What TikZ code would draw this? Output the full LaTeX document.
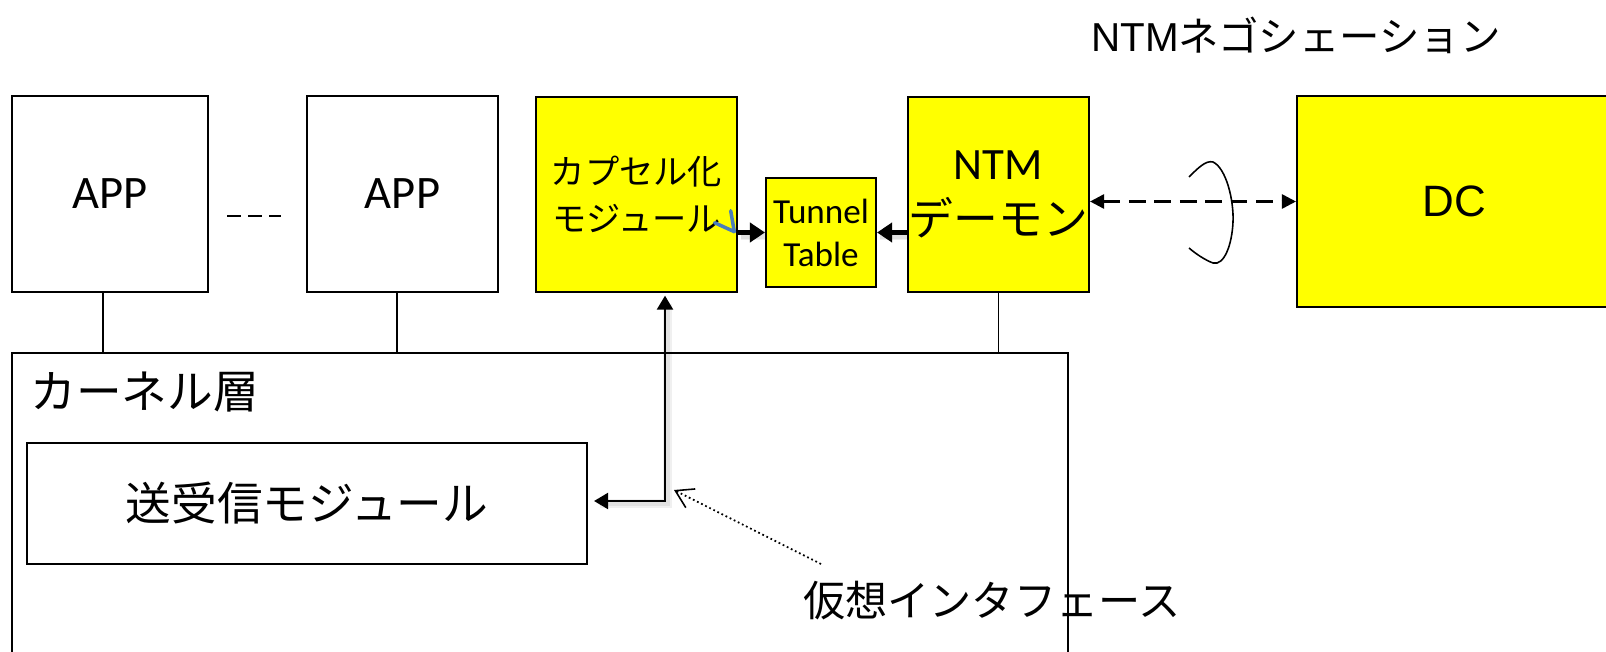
\documentclass[tikz,border=0pt]{standalone}
\usepackage{fontspec}
\setmainfont{Carlito}
\newfontfamily\jp{Noto Sans CJK JP}
\newfontfamily\arialf{Liberation Sans}
\usetikzlibrary{arrows.meta}

\definecolor{boxyellow}{RGB}{255,255,0}
\definecolor{markblue}{RGB}{74,126,187}

\begin{document}
\begin{tikzpicture}[x=0.02cm, y=-0.02cm,
  box/.style={draw=black, line width=1.1pt, inner sep=0pt, align=center},
  ybox/.style={box, fill=boxyellow, line width=1.2pt},
  wire/.style={draw=black, line width=1.1pt},
  fatarrow/.style={line width=2.5pt, -{Triangle[length=0.3cm, width=0.38cm]}},
  thinarrow/.style={line width=1.3pt, {Triangle[length=0.28cm, width=0.32cm]}-{Triangle[length=0.28cm, width=0.32cm]}},
  dasharrow/.style={line width=1.5pt, dash pattern=on 9.5pt off 5pt,
    {Triangle[length=0.28cm, width=0.28cm]}-{Triangle[length=0.28cm, width=0.28cm]}},
  dotarrow/.style={line width=1pt, dash pattern=on 1pt off 1.6pt,
    -{Straight Barb[length=0.34cm, width=0.42cm, line width=0.9pt]}},
  softshade/.style={draw=black, opacity=0.06, line width=#1, transform canvas={shift={(2.5,2.5)}}},
]
\useasboundingbox (0,0) rectangle (1606,652);
\fill[white] (0,0) rectangle (1606,652);

% heading over the negotiation link
\node[anchor=base west, inner sep=0pt, font=\fontsize{23}{28}\selectfont] (title) at (1091,52)
  {\arialf NTM\jp ネゴシェーション};

% user-space processes
\node[box, minimum width=3.92cm, minimum height=3.92cm, font=\fontsize{26.5}{31}\selectfont] (app1) at (110,194) {APP};
\node[box, minimum width=3.82cm, minimum height=3.92cm, font=\fontsize{26.5}{31}\selectfont] (app2) at (402.5,194) {APP};
\draw[line width=0.9pt, dash pattern=on 8pt off 4pt] (227,216) -- (281,216);

% encapsulation module, tunnel table, NTM daemon, DC
\node[ybox, minimum width=4.02cm, minimum height=3.90cm, font=\jp\fontsize{19.5}{26.5}\selectfont] (encap) at (636.5,194.5)
  {カプセル化\\モジュール};
\node[ybox, minimum width=2.2cm, minimum height=2.18cm, font=\fontsize{20}{24.5}\selectfont] (tunnel) at (821,232.5)
  {Tunnel\\Table};
\node[ybox, minimum width=3.62cm, minimum height=3.90cm, font=\fontsize{25.5}{32}\selectfont] (ntm) at (998.5,194.5)
  {NTM\\{\jp デーモン}};
\node[ybox, minimum width=6.3cm, minimum height=4.22cm, font=\arialf\fontsize{25}{30}\selectfont] (dc) at (1454.5,201.5) {DC};

% kernel layer (open towards the bottom)
\coordinate (kTL) at (12,353);
\coordinate (kTR) at (1068,353);
\draw[wire] (12,660) -- (kTL) -- (kTR) -- (1068,660);
\node[anchor=west, inner sep=0pt, font=\jp\fontsize{26}{30}\selectfont] (kernel) at (30,392) {カーネル層};
\node[box, minimum width=11.2cm, minimum height=2.42cm, font=\jp\fontsize{26}{30}\selectfont] (send) at (307,503.5)
  {送受信モジュール};

% attachments to the kernel layer
\draw[wire] ([xshift=-0.14cm]app1.south) -- ([xshift=-0.14cm]app1.south |- kTL);
\draw[wire] ([xshift=-0.11cm]app2.south) -- ([xshift=-0.11cm]app2.south |- kTL);
\draw[wire] (ntm.south) -- (ntm.south |- kTL);

% table updates, with a soft drop shadow
\foreach \w in {6pt,4pt}{
  \draw[softshade=\w] (encap.east |- tunnel) -- (tunnel.west);
  \draw[softshade=\w] (ntm.west |- tunnel) -- (tunnel.east);
}
\draw[fatarrow] (encap.east |- tunnel) -- (tunnel.west);
\draw[fatarrow] (ntm.west |- tunnel) -- (tunnel.east);
\draw[markblue, line width=2pt, line cap=round, line join=round]
  (714.6,222.7) -- (734.3,231.7) -- (730.7,210.7);

% virtual interface path, with a soft drop shadow
\coordinate (vif) at (665,501);
\foreach \w in {5pt,3pt}{
  \draw[softshade=\w] (encap.south -| vif) ++(0,8) -- (vif) -- ([xshift=0.2cm]send.east |- vif);
}
\draw[thinarrow, shorten <=1.5pt, shorten >=3.5pt] (encap.south -| vif) -- (vif) -- (send.east |- vif);

% negotiation link with DC
\draw[dasharrow] (ntm.east |- dc) -- (dc.west);
\draw[line width=0.9pt] (1189,177) .. controls (1198,168) and (1206,160) .. (1213,162)
  .. controls (1226,168) and (1234,200) .. (1233,222)
  .. controls (1232,245) and (1224,266) .. (1213,263)
  .. controls (1205,260) and (1196,254) .. (1189,248);

% virtual interface label
\node[font=\jp\fontsize{24}{28}\selectfont] (viflabel) at (992,601) {仮想インタフェース};
\coordinate (vtail) at (821,564);
\coordinate (vtip) at (674,490);
\draw[dotarrow] (vtail) -- (vtip);
\end{tikzpicture}
\end{document}
